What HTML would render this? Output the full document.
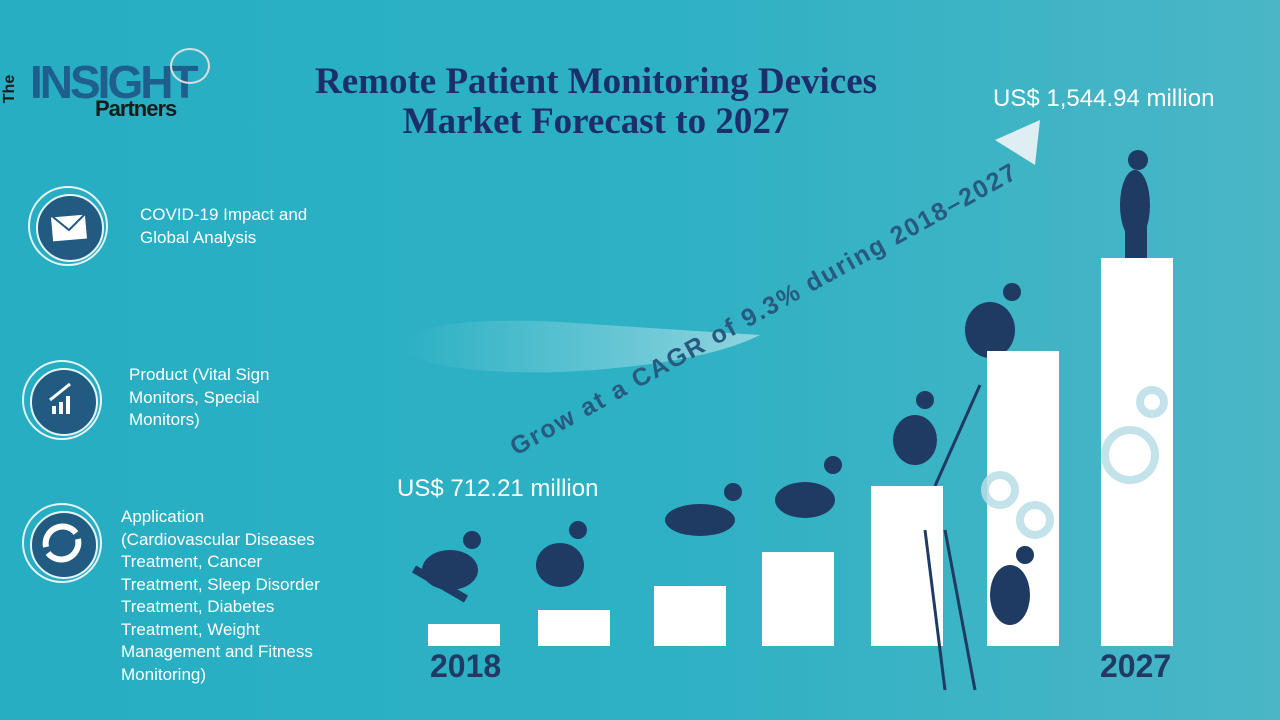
<!DOCTYPE html>
<html><head><meta charset="utf-8"><style>
body{margin:0;width:1280px;height:720px;overflow:hidden;font-family:"Liberation Sans",sans-serif;}
#bg{position:absolute;left:0;top:0;width:1280px;height:720px;background:linear-gradient(90deg,#27aec3 0%,#2db1c4 50%,#4ab6c6 100%);}
.t{position:absolute;color:#fff;font-size:17px;line-height:22.5px;}
.bar{position:absolute;background:#fff;}
.ic{position:absolute;width:80px;height:80px;border-radius:50%;border:2px solid #e8f4f6;box-sizing:border-box;}
.ic div{position:absolute;left:6px;top:6px;width:64px;height:64px;border-radius:50%;background:#215b82;border:2px solid #e8f4f6;}
</style></head><body>
<div id="bg"></div>
<svg width="1280" height="720" style="position:absolute;left:0;top:0">
<defs><linearGradient id="sw" x1="0" x2="1"><stop offset="0" stop-color="#fff" stop-opacity="0"/><stop offset="1" stop-color="#fff" stop-opacity="0.45"/></linearGradient></defs>
<path d="M400 345 Q420 315 560 322 Q680 330 760 335 Q700 365 560 372 Q420 375 400 345Z" fill="url(#sw)"/>
<polygon points="995,140 1040,120 1035,165" fill="#dfeef2"/>
<text x="0" y="0" transform="translate(516,456) rotate(-29)" font-family="Liberation Sans" font-weight="bold" font-size="25" fill="#285a80" letter-spacing="1.8">Grow at a CAGR of 9.3% during 2018–2027</text>
<g fill="#1f3a63">
<ellipse cx="450" cy="570" rx="28" ry="20"/><circle cx="472" cy="540" r="9"/><rect x="410" y="580" width="60" height="8" transform="rotate(30 440 584)"/>
<ellipse cx="560" cy="565" rx="24" ry="22"/><circle cx="578" cy="530" r="9"/>
<ellipse cx="700" cy="520" rx="35" ry="16"/><circle cx="733" cy="492" r="9"/>
<ellipse cx="805" cy="500" rx="30" ry="18"/><circle cx="833" cy="465" r="9"/>
<ellipse cx="915" cy="440" rx="22" ry="25"/><circle cx="925" cy="400" r="9"/>
<ellipse cx="990" cy="330" rx="25" ry="28"/><circle cx="1012" cy="292" r="9"/>
<ellipse cx="1135" cy="205" rx="15" ry="35"/><circle cx="1138" cy="160" r="10"/><rect x="1125" y="225" width="22" height="35"/>
</g>
<g stroke="#1f3a63" stroke-width="3" fill="none"><line x1="935" y1="486" x2="980" y2="385"/></g>
</svg>
<div class="bar" style="left:428px;top:624px;width:72px;height:22px"></div>
<div class="bar" style="left:538px;top:610px;width:72px;height:36px"></div>
<div class="bar" style="left:654px;top:586px;width:72px;height:60px"></div>
<div class="bar" style="left:762px;top:552px;width:72px;height:94px"></div>
<div class="bar" style="left:871px;top:486px;width:72px;height:160px"></div>
<div class="bar" style="left:987px;top:351px;width:72px;height:295px"></div>
<div class="bar" style="left:1101px;top:258px;width:72px;height:388px"></div>
<svg width="1280" height="720" style="position:absolute;left:0;top:0">
<g fill="none" stroke="#b9dde6" stroke-width="8" opacity="0.85"><circle cx="1130" cy="455" r="25"/><circle cx="1152" cy="402" r="12"/><circle cx="1035" cy="520" r="15"/><circle cx="1000" cy="490" r="15"/></g>
<g fill="#1f3a63"><ellipse cx="1010" cy="595" rx="20" ry="30"/><circle cx="1025" cy="555" r="9"/></g>
<g stroke="#1f3a63" stroke-width="3" fill="none"><line x1="925" y1="530" x2="945" y2="690"/><line x1="945" y1="530" x2="975" y2="690"/></g>
</svg>
<div style="position:absolute;left:30px;top:59px;font-size:46px;font-weight:bold;color:#1e5f8e;letter-spacing:-3px;line-height:46px">INSIGHT</div>
<div style="position:absolute;left:-4px;top:80px;font-size:16px;font-weight:bold;color:#1a1a1a;transform:rotate(-90deg)">The</div>
<div style="position:absolute;left:95px;top:96px;font-size:22px;font-weight:bold;color:#1a1a1a;letter-spacing:-1px">Partners</div>
<div style="position:absolute;left:170px;top:48px;width:36px;height:32px;border:2px solid #ddd;border-radius:50%"></div>
<div style="position:absolute;left:240px;top:62px;width:712px;text-align:center;font-family:'Liberation Serif',serif;font-weight:bold;font-size:37px;line-height:40px;color:#1c2f6b">Remote Patient Monitoring Devices<br>Market Forecast to 2027</div>
<div class="t" style="left:993px;top:88px;font-size:24px">US$ 1,544.94 million</div>
<div class="t" style="left:397px;top:478px;font-size:24px">US$ 712.21 million</div>
<div style="position:absolute;left:430px;top:648px;font-size:32px;font-weight:bold;color:#1f3a63">2018</div>
<div style="position:absolute;left:1100px;top:648px;font-size:32px;font-weight:bold;color:#1f3a63">2027</div>
<div class="ic" style="left:28px;top:186px"><div><svg width="60" height="60"><rect x="14" y="20" width="34" height="24" fill="#fff" transform="rotate(-5 31 32)"/><polyline points="15,21 31,34 47,18" fill="none" stroke="#215b82" stroke-width="2"/></svg></div></div>
<div class="t" style="left:140px;top:204px">COVID-19 Impact and<br>Global Analysis</div>
<div class="ic" style="left:22px;top:360px"><div><svg width="60" height="60"><rect x="20" y="36" width="4" height="8" fill="#fff"/><rect x="27" y="32" width="4" height="12" fill="#fff"/><rect x="34" y="26" width="4" height="18" fill="#fff"/><path d="M18 30 L38 14" stroke="#fff" stroke-width="3"/></svg></div></div>
<div class="t" style="left:129px;top:364px">Product (Vital Sign<br>Monitors, Special<br>Monitors)</div>
<div class="ic" style="left:22px;top:503px"><div><svg width="60" height="60"><path d="M14 34 A17 17 0 0 1 44 20" stroke="#fff" stroke-width="6" fill="none"/><path d="M46 26 A17 17 0 0 1 16 40" stroke="#fff" stroke-width="6" fill="none"/></svg></div></div>
<div class="t" style="left:121px;top:506px">Application<br>(Cardiovascular Diseases<br>Treatment, Cancer<br>Treatment, Sleep Disorder<br>Treatment, Diabetes<br>Treatment, Weight<br>Management and Fitness<br>Monitoring)</div>
</body></html>
